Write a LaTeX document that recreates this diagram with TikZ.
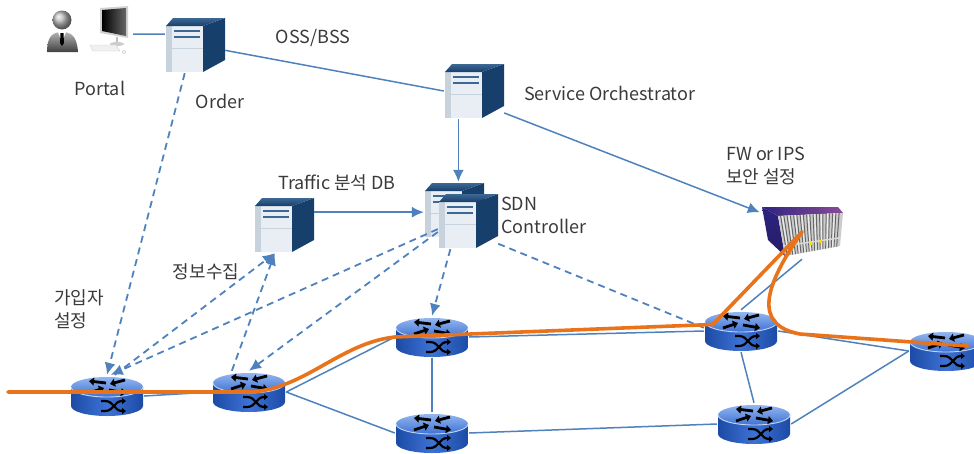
\documentclass[tikz,border=0pt]{standalone}
\usepackage{fontspec}
\setmainfont{Noto Sans CJK KR}
\usetikzlibrary{arrows.meta,calc,backgrounds}

\definecolor{linkblue}{HTML}{4F81BD}
\definecolor{navy}{HTML}{173F6B}
\definecolor{navytop}{HTML}{3E6894}
\definecolor{panel}{HTML}{E9EEF4}
\definecolor{panelside}{HTML}{C8D2DD}
\definecolor{routerdark}{HTML}{1C4BA6}
\definecolor{routermid}{HTML}{3D72D4}
\definecolor{routertop}{HTML}{93B6EF}
\definecolor{fwpurple}{HTML}{2E2380}
\definecolor{fwmagenta}{HTML}{8A4C98}
\definecolor{traffic}{HTML}{E8731A}
\definecolor{labelgray}{HTML}{3A3A3A}

\tikzset{
  lbl/.style={font=\fontsize{18}{23}\selectfont, text=labelgray, inner sep=0pt},
  link/.style={draw=linkblue, line width=1.5pt},
  ctrl/.style={draw=linkblue, line width=1.8pt, dash pattern=on 7pt off 5pt},
  tip/.style={-{Latex[length=12pt,width=11pt]}},
  flow/.style={draw=traffic, line width=3.6pt, line cap=round},
  rarrow/.style={line width=2.8pt, -{Triangle[length=5pt,width=8pt]}},
  % server box: light front, dark right side, blue top
  server/.style={minimum width=60pt, minimum height=56pt, inner sep=0pt,
    path picture={
      \begin{scope}[shift={(path picture bounding box.center)}]
        \fill[panelside] (-29,-27) rectangle (-23,19);
        \fill[panel] (-23,-27) rectangle (8,19);
        \fill[navy] (8,19) -- (30,27) -- (30,-15) -- (8,-27) -- cycle;
        \shade[top color=navytop, bottom color=navy] (-29,19) -- (-22,27) -- (30,27) -- (8,19) -- cycle;
        \draw[navytop, line width=1.3pt] (-21,14) -- (5,14) (-21,8) -- (5,8);
        \draw[panelside, line width=0.8pt] (-23,-3) -- (8,-3);
      \end{scope}}},
  % router: blue cylinder with arrows
  router/.style={minimum width=74pt, minimum height=42pt, inner sep=0pt,
    path picture={
      \begin{scope}[shift={(path picture bounding box.center)}]
        \shade[left color=routerdark, right color=routerdark, middle color=routermid]
          (-36,9) -- (-36,-10) arc[start angle=180, end angle=360, x radius=36, y radius=10] -- (36,9) -- cycle;
        \shade[top color=routertop, bottom color=routermid] (0,9) ellipse[x radius=36, y radius=10];
        \draw[white!70!routermid, line width=0.9pt] (-36,9) arc[start angle=180, end angle=360, x radius=36, y radius=10];
        \draw[rarrow] (-1,13) -- (-18,15);
        \draw[rarrow] (18,16) -- (3,12);
        \draw[rarrow] (-18,3) -- (-3,8);
        \draw[rarrow] (2,6) -- (19,3);
        \draw[line width=2.2pt, -{Triangle[length=4pt,width=6pt]}] (-6,-5) -- (-2,-5) .. controls (7,-5) and (7,-15) .. (19,-15);
        \draw[line width=2.2pt, -{Triangle[length=4pt,width=6pt]}] (-6,-15) -- (-2,-15) .. controls (7,-15) and (7,-5) .. (19,-5);
      \end{scope}}},
  % firewall chassis
  chassis/.style={minimum width=84pt, minimum height=54pt, inner sep=0pt,
    path picture={
      \begin{scope}[shift={(path picture bounding box.center)}]
        \shade[top color=fwpurple, bottom color=fwpurple!80!black] (-40,25) -- (-24,16) -- (-17,-24) -- (-34,-8) -- cycle;
        \shade[left color=fwpurple, right color=fwmagenta] (-40,25) -- (36,25) -- (41,19) -- (-24,16) -- cycle;
        \fill[gray!40] (-24,16) -- (41,19) -- (38,-14) -- (-17,-24) -- cycle;
        \foreach \t in {0.04,0.09,...,0.96}
          \draw[black!60, line width=1pt] ($(-24,16)!\t!(41,19)$) -- ($(-17,-24)!\t!(38,-14)$);
        \foreach \t in {0.065,0.165,...,0.96}
          \draw[white!85!gray, line width=1.2pt] ($(-24,16)!\t!(41,19)$) -- ($(-17,-24)!\t!(38,-14)$);
        \draw[gray!30, line width=1.5pt] ($(-24,16)!0.75!(-17,-24)$) -- ($(41,19)!0.75!(38,-14)$);
        \fill[yellow!80!orange] (8,-10) rectangle (10,-13) (18,-8) rectangle (20,-11);
      \end{scope}}},
  person/.style={minimum width=36pt, minimum height=48pt, inner sep=0pt,
    path picture={
      \begin{scope}[shift={(path picture bounding box.center)}]
        \shade[top color=gray!60, bottom color=black!75]
          (-15,-22) .. controls (-15,-6) and (-9,-2) .. (0,-2) .. controls (9,-2) and (15,-6) .. (16,-22) -- cycle;
        \fill[white] (-4,-2) -- (4,-2) -- (0,-12) -- cycle;
        \fill[black] (-1.5,-3) -- (1.5,-3) -- (2,-13) -- (0,-16) -- (-2,-13) -- cycle;
        \shade[ball color=gray!55] (0,10) circle[radius=9.5];
      \end{scope}}},
  terminal/.style={minimum width=46pt, minimum height=50pt, inner sep=0pt,
    path picture={
      \begin{scope}[shift={(path picture bounding box.center)}]
        \fill[gray!35] (-10,22) -- (18,24) -- (18,-8) -- (-10,-3) -- cycle;
        \shade[left color=black, right color=gray!80!black] (-8,20) -- (16,22) -- (16,-6) -- (-8,-1) -- cycle;
        \fill[gray!50] (6,-7) rectangle (8,-13);
        \fill[gray!40] (7,-14) ellipse[x radius=7, y radius=2];
        \filldraw[fill=gray!12, draw=gray!40] (-20,-15) -- (6,-15) -- (10,-21) -- (-17,-21) -- cycle;
        \filldraw[fill=gray!12, draw=gray!40] (14,-22) ellipse[x radius=2, y radius=1.5];
      \end{scope}}}
}

\begin{document}
\begin{tikzpicture}[x=1pt, y=1pt]
  \useasboundingbox (0,0) rectangle (974,-453);

  % icons
  \node[person] (usr) at (62,-30) {};
  \node[terminal] (pc) at (110,-30) {};
  \node[server] (order) at (195,-45) {};
  \node[server] (so) at (474,-91) {};
  \node[server] (db) at (284,-225) {};
  \node[server] (sdnb) at (454,-210) {};
  \node[server] (sdnf) at (468,-221) {};
  \node[chassis] (fw) at (802,-232) {};

  \node[router] (r1) at (107,-396) {};
  \node[router] (r2) at (249,-392) {};
  \node[router] (r3) at (432,-337) {};
  \node[router] (r4) at (432,-433) {};
  \node[router] (r5) at (741,-331) {};
  \node[router] (r6) at (754,-424) {};
  \node[router] (r7) at (946,-351) {};

  \coordinate (src) at (8,-392);

  \draw[link] (pc.-10) -- (order.160);
  \draw[link] (order.-10) -- (so.west);
  \draw[link, tip] (so.-119) -- (so.-119 |- sdnb.north);
  \draw[link, tip] (so.-36) -- (fw.155);
  \draw[link, tip] (db.23) -- (db.23 -| sdnb.west);

  % physical links, behind the routers
  \begin{scope}[on background layer]
    \draw[link] (r1.east) -- (r2.west);
    \draw[link] (r2.east) -- (r3.west);
    \draw[link] (r2.east) -- (r4.west);
    \draw[link] (r3.south) -- (r4.north);
    \draw[link] (r3.east) -- (r5.west);
    \draw[link] (r4.east) -- (r6.west);
    \draw[link] (r5.south) -- (r6.north);
    \draw[link] (r5.east) -- (r7.west);
    \draw[link] (r6.east) -- (r7.west);
    \draw[link] (r5.north) -- (fw.south);
  \end{scope}

  % control messages
  \draw[ctrl, tip] (order.-110) -- (r1.north);
  \draw[ctrl, tip] (sdnf.195) -- (r1.80);
  \draw[ctrl, tip] (r1.70) -- (db.-108);
  \draw[ctrl, tip] (r2.129) -- (db.-108);
  \draw[ctrl, tip] (sdnf.200) -- (r2.north);
  \draw[ctrl, tip] (sdnf.-122) -- (r3.north);
  \draw[ctrl] (sdnf.-37) -- (r5.175);

  % traffic path through the firewall
  \draw[flow] (src) -- (r2.center) .. controls +(55,2) and +(-55,-6) .. (r3.west)
    -- ([xshift=9pt]r5.170) -- (fw.center);
  \draw[flow] (fw.center) .. controls (765,-285) and (752,-325) .. (800,-334)
    -- ([shift={(22,5)}]r7.center);

  % labels
  \node[lbl] (portal) at (100,-88) {Portal};
  \node[lbl] (ordlbl) at (220,-101) {Order};
  \node[lbl] (osslbl) at (313,-38) {OSS/BSS};
  \node[lbl, anchor=west] (solbl) at (524,-93) {Service Orchestrator};
  \node[lbl] (dblbl) at (337,-183) {Traffic 분석 DB};
  \node[lbl, anchor=west, align=left] (sdnlbl) at (501,-215) {SDN\\Controller};
  \node[lbl, anchor=west, align=left] (fwlbl) at (726,-166) {FW or IPS\\보안 설정};
  \node[lbl, anchor=west, align=left] (sublbl) at (54,-309) {가입자\\설정};
  \node[lbl] (collbl) at (206,-272) {정보수집};
\end{tikzpicture}
\end{document}
